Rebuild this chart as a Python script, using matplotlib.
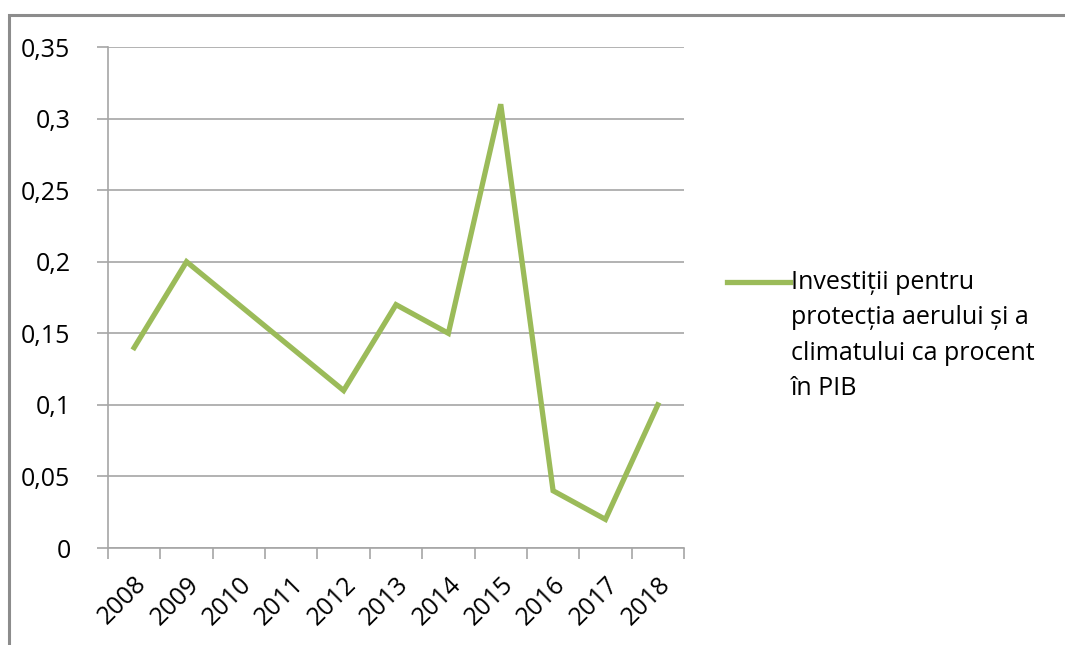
import matplotlib
matplotlib.use("Agg")
import matplotlib.pyplot as plt
from matplotlib.lines import Line2D
from matplotlib.patches import Rectangle

# date
ani = ["2008", "2009", "2010", "2011", "2012", "2013",
       "2014", "2015", "2016", "2017", "2018"]
valori = [0.14, 0.20, 0.17, 0.14, 0.11, 0.17, 0.15, 0.31, 0.04, 0.02, 0.10]
y_ticks = [0, 0.05, 0.1, 0.15, 0.2, 0.25, 0.3, 0.35]
y_labels = ["0", "0,05", "0,1", "0,15", "0,2", "0,25", "0,3", "0,35"]
eticheta = "Investiții pentru\nprotecția aerului și a\nclimatului ca procent\nîn PIB"

verde = "#9bbb59"
gri = "#a6a6a6"
fs = 18

plt.rcParams['font.family'] = ['Open Sans', 'DejaVu Sans']

fig = plt.figure(figsize=(10.65, 6.45), dpi=100)
ax = fig.add_axes([108/1065, 1-548/645, 576/1065, 501/645])

x = list(range(len(ani)))
ax.plot(x, valori, color=verde, lw=3.8, solid_joinstyle='miter')

ax.set_xlim(-0.5, len(ani)-0.5)
ax.set_ylim(0, 0.35)
ax.set_yticks(y_ticks)
ax.set_yticklabels(y_labels, fontsize=fs)
ax.yaxis.grid(True, color=gri, lw=1.2)
ax.set_axisbelow(True)

# ticks pe granitele categoriilor, etichete la centru
ax.set_xticks([i - 0.5 for i in range(len(ani)+1)])
ax.set_xticklabels([])
ax.set_xticks(x, minor=True)
ax.set_xticklabels(ani, minor=True, rotation=45, ha='right', va='top',
                   rotation_mode='anchor', fontsize=fs)
ax.tick_params(axis='x', which='major', length=8, color=gri, width=1.2)
ax.tick_params(axis='x', which='minor', length=0, pad=17)
ax.tick_params(axis='y', length=8, color=gri, width=1.2, pad=19)

for s in ['top', 'right']:
    ax.spines[s].set_visible(False)
for s in ['left', 'bottom']:
    ax.spines[s].set_color(gri)
    ax.spines[s].set_linewidth(1.2)

# legenda desenata manual (linia la primul rand, ca in Excel)
fig.add_artist(Line2D([727/1065, 790/1065], [1-282/645, 1-282/645],
                      color=verde, lw=3.8))
fig.text(791/1065, 1-270/645, eticheta, fontsize=fs, va='top', ha='left',
         linespacing=1.55)

# chenarul graficului
fig.add_artist(Rectangle((9/1065, -0.05), 1.1, 1-15/645+0.05,
                         transform=fig.transFigure, fill=False,
                         edgecolor='#8c8c8c', lw=2.2))

fig.savefig("out.png", dpi=100)
